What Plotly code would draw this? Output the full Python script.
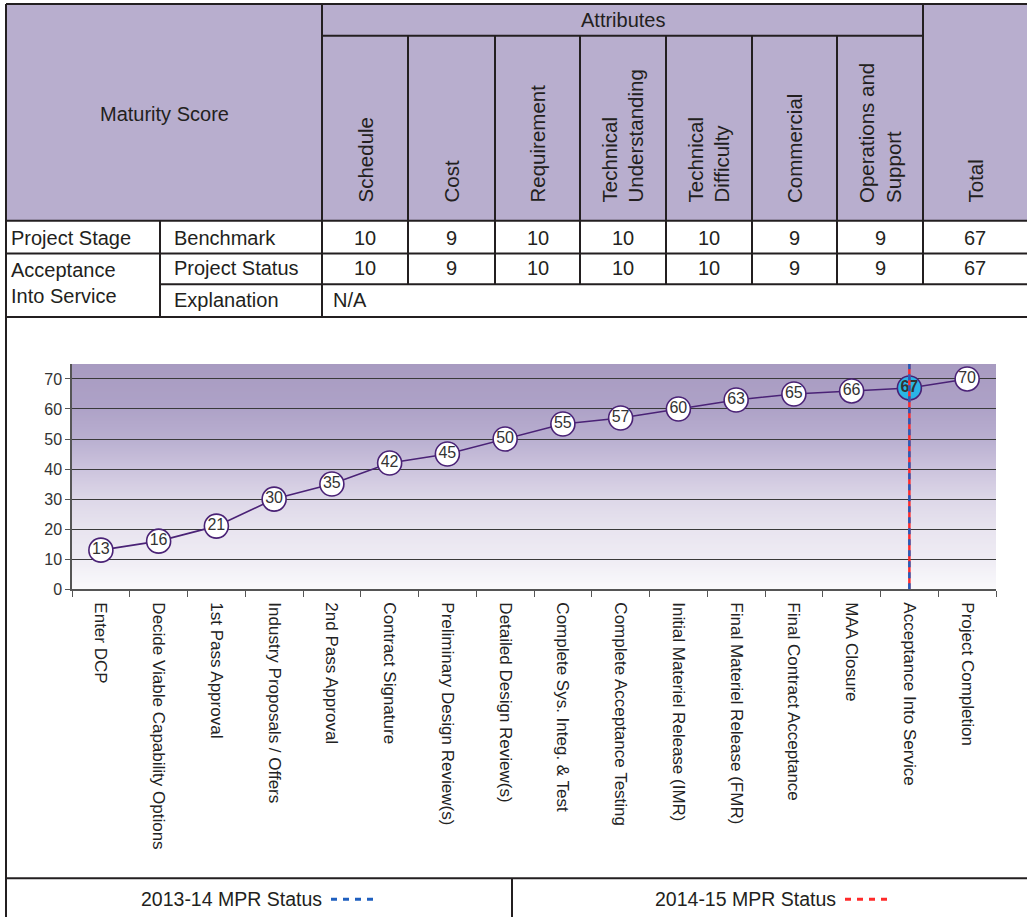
import plotly.graph_objects as go

# ---- data -------------------------------------------------------------
stages = [
    "Enter DCP",
    "Decide Viable Capability Options",
    "1st Pass Approval",
    "Industry Proposals / Offers",
    "2nd Pass Approval",
    "Contract Signature",
    "Preliminary Design Review(s)",
    "Detailed Design Review(s)",
    "Complete Sys. Integ. & Test",
    "Complete Acceptance Testing",
    "Initial Materiel Release (IMR)",
    "Final Materiel Release (FMR)",
    "Final Contract Acceptance",
    "MAA Closure",
    "Acceptance Into Service",
    "Project Completion",
]
maturity = [13, 16, 21, 30, 35, 42, 45, 50, 55, 57, 60, 63, 65, 66, 67, 70]
current_stage = "Acceptance Into Service"

attributes = [
    "Schedule",
    "Cost",
    "Requirement",
    "Technical<br>Understanding",
    "Technical<br>Difficulty",
    "Commercial",
    "Operations and<br>Support",
]
benchmark = [10, 9, 10, 10, 10, 9, 9]
project_status = [10, 9, 10, 10, 10, 9, 9]
explanation = "N/A"

y_ticks = [0, 10, 20, 30, 40, 50, 60, 70]
status_labels = ["2013-14 MPR Status", "2014-15 MPR Status"]

# ---- styling ----------------------------------------------------------
W, H = 1027, 924
FONT = "Liberation Sans, Arial, sans-serif"
TEXT = "#231F20"
RULE = "#231F20"
HEADER_FILL = "#B8AECE"
PURPLE = "#4A2276"
CYAN = "#2BB5E6"
BLUE = "#1F5FBF"
RED = "#FF2A2A"

# background gradient stops for the plot area (value, rgb)
grad_stops = [
    (0, (250, 250, 252)),
    (10, (239, 236, 244)),
    (20, (232, 228, 239)),
    (30, (221, 215, 232)),
    (40, (204, 196, 221)),
    (50, (185, 175, 208)),
    (60, (174, 162, 199)),
    (75, (168, 155, 193)),
]

# table grid (pixel positions)
col_edges = [322, 408, 495, 580, 666, 752, 837, 923, 1027]
LEFT, TOP = 6, 4
HEAD_BOTTOM, ROW1, ROW2, ROW3 = 223, 256, 287, 320
LEG_TOP = 887
PLOT_L, PLOT_R, PLOT_T, PLOT_B = 72, 996, 367.5, 595


def fx(px):
    return px / W


def fy(py):
    return 1 - py / H


def seg(x0, y0, x1, y1, width=2, color=RULE, dash=None):
    ln = dict(color=color, width=width)
    if dash:
        ln["dash"] = dash
    return dict(type="line", xref="paper", yref="paper",
                x0=fx(x0), y0=fy(y0), x1=fx(x1), y1=fy(y1), line=ln)


def label(text, x, y, size=20, xanchor="center", yanchor="middle", **kw):
    return dict(text=text, x=fx(x), y=fy(y), xref="paper", yref="paper",
                showarrow=False, xanchor=xanchor, yanchor=yanchor,
                font=dict(size=size, color=TEXT, family=FONT), **kw)


def grad_color(v):
    for (v0, c0), (v1, c1) in zip(grad_stops[:-1], grad_stops[1:]):
        if v0 <= v <= v1:
            t = (v - v0) / (v1 - v0)
            r, g, b = (round(a + (b_ - a) * t) for a, b_ in zip(c0, c1))
            return f"rgb({r},{g},{b})"
    r, g, b = grad_stops[-1][1]
    return f"rgb({r},{g},{b})"


shapes = []
annotations = []

# header fill
shapes.append(dict(type="rect", xref="paper", yref="paper", layer="below",
                   x0=fx(LEFT), x1=fx(W + 2), y0=fy(HEAD_BOTTOM), y1=fy(TOP),
                   fillcolor=HEADER_FILL, line=dict(width=0)))

# plot area gradient: stacked rects, each reaching the top, so no seams
Y_MAX = 75
n_bands = 150
for i in range(n_bands):
    y0 = Y_MAX * i / n_bands
    shapes.append(dict(type="rect", xref="x domain", yref="y", layer="below",
                       x0=0, x1=1, y0=y0, y1=Y_MAX,
                       fillcolor=grad_color(y0 + Y_MAX / n_bands / 2),
                       line=dict(width=0)))

# table rules
shapes += [
    seg(LEFT, TOP, W + 2, TOP),
    seg(LEFT, TOP, LEFT, H + 2),
    seg(col_edges[0], TOP, col_edges[0], ROW3),
    seg(col_edges[0], 36, col_edges[-2], 36),
    seg(col_edges[-2], TOP, col_edges[-2], ROW2),
    seg(LEFT, HEAD_BOTTOM, W + 2, HEAD_BOTTOM),
    seg(LEFT, ROW1, W + 2, ROW1),
    seg(160, HEAD_BOTTOM, 160, ROW3),
    seg(160, ROW2, W + 2, ROW2),
    seg(LEFT, ROW3, W + 2, ROW3),
    seg(LEFT, LEG_TOP, W + 2, LEG_TOP),
    seg(512, LEG_TOP, 512, H + 2),
]
for xe in col_edges[1:-2]:
    shapes.append(seg(xe, 36, xe, ROW2))

# header text
annotations.append(label("Maturity Score", (LEFT + col_edges[0]) / 2, 115))
annotations.append(label("Attributes", (col_edges[0] + col_edges[-2]) / 2, 20))
for i, name in enumerate(attributes + ["Total"]):
    cx = (col_edges[i] + col_edges[i + 1]) / 2
    annotations.append(label(name, cx, 207, size=20.5, yanchor="bottom",
                             textangle=-90, align="left"))

# body rows
annotations += [
    label("Project Stage", 9, 240, xanchor="left"),
    label("Benchmark", 172, 240, xanchor="left"),
    label("Acceptance<br>Into Service", 9, 286, xanchor="left", align="left"),
    label("Project Status", 172, 271, xanchor="left"),
    label("Explanation", 172, 303, xanchor="left"),
    label(explanation, 331, 303, xanchor="left"),
]
for i, (b, s) in enumerate(zip(benchmark + [sum(benchmark)],
                               project_status + [sum(project_status)])):
    cx = (col_edges[i] + col_edges[i + 1]) / 2
    annotations.append(label(str(b), cx, 240))
    annotations.append(label(str(s), cx, 271))

# current stage marker lines (2013-14 and 2014-15 status coincide)
cur = stages.index(current_stage)
shapes.append(dict(type="line", xref="x", yref="y", x0=cur, x1=cur, y0=0, y1=Y_MAX,
                   line=dict(color=RED, width=2.5)))
shapes.append(dict(type="line", xref="x", yref="y", x0=cur, x1=cur, y0=0, y1=Y_MAX,
                   line=dict(color=BLUE, width=2.5, dash="6px,5px")))

# status key row
for (text, x_end), color in zip(zip(status_labels, [324, 838]), [BLUE, RED]):
    annotations.append(label(text, x_end, 908, size=19.5, xanchor="right"))
    shapes.append(seg(x_end + 7, 908, x_end + 51, 908, width=3, color=color,
                      dash="6px,6px"))

# ---- chart ------------------------------------------------------------
marker_fill = ["white"] * len(stages)
marker_fill[cur] = CYAN
point_text = [str(v) for v in maturity]
point_text[cur] = f"<b>{maturity[cur]}</b>"

fig = go.Figure()
fig.add_trace(go.Scatter(
    x=stages, y=maturity, mode="lines+markers+text",
    line=dict(color=PURPLE, width=1.6),
    marker=dict(size=24, color=marker_fill, line=dict(color=PURPLE, width=1.6)),
    text=point_text, textposition="middle center",
    textfont=dict(size=16, color="#333333", family=FONT),
    hoverinfo="skip", cliponaxis=False, showlegend=False,
))

fig.update_layout(
    width=W, height=H,
    margin=dict(l=0, r=0, t=0, b=0),
    paper_bgcolor="white",
    plot_bgcolor="rgba(0,0,0,0)",
    font=dict(family=FONT, color=TEXT),
    shapes=shapes,
    annotations=annotations,
    xaxis=dict(
        domain=[fx(PLOT_L), fx(PLOT_R)],
        type="category", range=[-0.5, len(stages) - 0.5],
        tickangle=90, tickfont=dict(size=17, color="#222222", family=FONT),
        ticks="outside", tickson="boundaries", ticklen=6, tickcolor="#555555",
        ticklabelstandoff=8,
        showline=True, linecolor="#555555", linewidth=1.5,
        showgrid=False, zeroline=False, fixedrange=True,
    ),
    yaxis=dict(
        domain=[fy(PLOT_B), fy(PLOT_T)],
        range=[0, Y_MAX], tickvals=y_ticks,
        tickfont=dict(size=16, color="#333333", family=FONT),
        ticks="outside", ticklen=5, tickcolor="#555555",
        showline=True, linecolor="#555555", linewidth=1.5,
        showgrid=True, gridcolor="#3a3a3a", gridwidth=1.2,
        zeroline=False, fixedrange=True,
    ),
)

fig.write_html("out.html")
